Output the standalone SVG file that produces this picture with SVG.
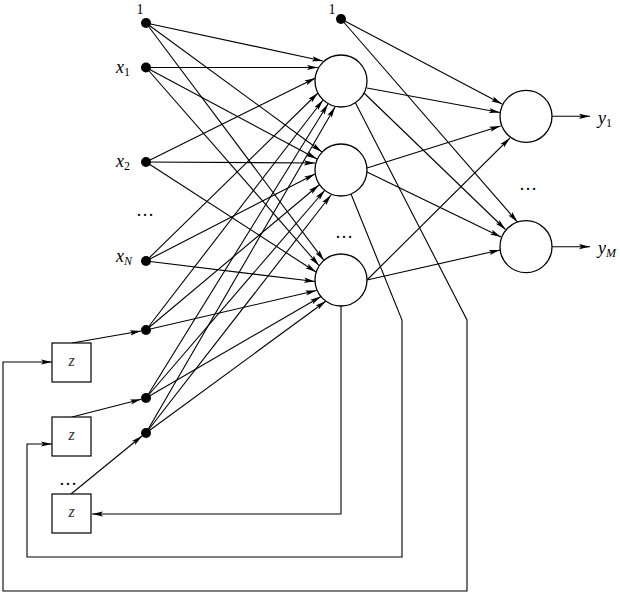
<svg xmlns="http://www.w3.org/2000/svg" width="620" height="596" viewBox="0 0 620 596">
<style>
.ln{fill:none;stroke:#000;stroke-width:1.1}
.ar{marker-end:url(#ah)}
.nd{fill:#fff;stroke:#000;stroke-width:1.3}
.dot{fill:#000}
.bx{fill:#fff;stroke:#000;stroke-width:1.2}
.t{font-family:"Liberation Serif",serif;fill:#000}
.it{font-style:italic}
.z{font-family:"Liberation Serif",serif;font-style:italic;font-size:16px;fill:#333}
</style>
<defs>
<marker id="ah" markerWidth="12" markerHeight="8" refX="11" refY="4" orient="auto" markerUnits="userSpaceOnUse">
<path d="M0,1.4 L11,4 L0,6.6 L2.2,4 Z" fill="#000"/>
</marker>
</defs>
<rect width="620" height="596" fill="#fff"/>
<g id="connectors">
<g class="ln ar">
<line x1="146" y1="23" x2="323" y2="61"/>
<line x1="146" y1="67.5" x2="318" y2="67.5"/>
<line x1="146" y1="162" x2="315.5" y2="78"/>
<line x1="146" y1="261" x2="318" y2="93"/>
<line x1="146" y1="330" x2="323" y2="100"/>
<line x1="146" y1="398" x2="328" y2="104"/>
<line x1="146" y1="433" x2="335" y2="107"/>
<line x1="146" y1="23" x2="322" y2="152"/>
<line x1="146" y1="67.5" x2="317" y2="159"/>
<line x1="146" y1="162" x2="315" y2="163"/>
<line x1="146" y1="261" x2="315" y2="174"/>
<line x1="146" y1="330" x2="319" y2="185"/>
<line x1="146" y1="398" x2="325" y2="190"/>
<line x1="146" y1="433" x2="331" y2="195"/>
<line x1="146" y1="23" x2="324" y2="260.5"/>
<line x1="146" y1="67.5" x2="319" y2="265.5"/>
<line x1="146" y1="162" x2="316" y2="272"/>
<line x1="146" y1="261" x2="315" y2="281.5"/>
<line x1="146" y1="330" x2="316.5" y2="290.5"/>
<line x1="146" y1="398" x2="321" y2="296.5"/>
<line x1="146" y1="433" x2="326" y2="301"/>
<line x1="367" y1="88" x2="500" y2="112.5"/>
<line x1="364" y1="93" x2="505.5" y2="229.5"/>
<line x1="367" y1="168" x2="500.5" y2="126"/>
<line x1="367" y1="172" x2="501" y2="237"/>
<line x1="367" y1="280" x2="510" y2="138"/>
<line x1="367" y1="280" x2="500" y2="250"/>
<line x1="341" y1="19" x2="502" y2="104"/>
<line x1="341" y1="19" x2="517.5" y2="222"/>
<line x1="552" y1="116.3" x2="590" y2="116.3"/>
<line x1="552" y1="246.7" x2="590" y2="246.7"/>
<line x1="72" y1="343" x2="141" y2="331"/>
<line x1="72" y1="417" x2="141.2" y2="399.2"/>
<line x1="71" y1="494" x2="142" y2="436"/>
<polyline points="341,306 341,514 92,514"/>
<polyline points="351,194 402,320 402,557 27,557 27,444 52,444"/>
<polyline points="355,102 467,320 467,591 3,591 3,362 52,362"/>
</g>
</g>
<g id="in_bias"><circle class="dot" cx="146" cy="23" r="5"/><text class="t" x="140" y="13.5" font-size="14" text-anchor="middle">1</text></g>
<g id="in_x1"><circle class="dot" cx="146" cy="67.5" r="5"/><text class="t" x="116" y="73" font-size="18"><tspan class="it">x</tspan><tspan font-size="12" dy="3">1</tspan></text></g>
<g id="in_x2"><circle class="dot" cx="146" cy="162" r="5"/><text class="t" x="116" y="166.5" font-size="18"><tspan class="it">x</tspan><tspan font-size="12" dy="3">2</tspan></text></g>
<g id="in_dots"><text class="t" x="145" y="216" font-size="18" text-anchor="middle">…</text></g>
<g id="in_xN"><circle class="dot" cx="146" cy="261" r="5"/><text class="t" x="116" y="261.5" font-size="18"><tspan class="it">x</tspan><tspan class="it" font-size="12" dy="3">N</tspan></text></g>
<g id="rec1"><circle class="dot" cx="146" cy="330" r="5"/></g>
<g id="rec2"><circle class="dot" cx="146" cy="398" r="5"/></g>
<g id="rec3"><circle class="dot" cx="146" cy="433" r="5"/></g>
<g id="z1"><rect class="bx" x="52" y="343" width="39" height="39"/><text class="z" x="71.5" y="366" text-anchor="middle">z</text></g>
<g id="z2"><rect class="bx" x="52" y="417" width="39" height="39"/><text class="z" x="71.5" y="440" text-anchor="middle">z</text></g>
<g id="z_dots"><text class="t" x="68" y="485" font-size="18" text-anchor="middle">…</text></g>
<g id="z3"><rect class="bx" x="52" y="494" width="39" height="39"/><text class="z" x="71.5" y="517" text-anchor="middle">z</text></g>
<g id="hid_bias"><circle class="dot" cx="341" cy="19" r="5"/><text class="t" x="332" y="13.5" font-size="14" text-anchor="middle">1</text></g>
<g id="h1"><circle class="nd" cx="341" cy="81" r="26"/></g>
<g id="h2"><circle class="nd" cx="341" cy="170" r="26"/></g>
<g id="h_dots"><text class="t" x="344" y="238" font-size="18" text-anchor="middle">…</text></g>
<g id="h3"><circle class="nd" cx="341" cy="280" r="26"/></g>
<g id="o1"><circle class="nd" cx="526" cy="116.3" r="26"/></g>
<g id="o_dots"><text class="t" x="528" y="190" font-size="18" text-anchor="middle">…</text></g>
<g id="o2"><circle class="nd" cx="526" cy="246.7" r="26"/></g>
<g id="y1"><text class="t" x="598" y="124" font-size="18"><tspan class="it">y</tspan><tspan font-size="12" dy="3">1</tspan></text></g>
<g id="yM"><text class="t" x="598" y="254" font-size="18"><tspan class="it">y</tspan><tspan class="it" font-size="12" dy="3">M</tspan></text></g>
</svg>
